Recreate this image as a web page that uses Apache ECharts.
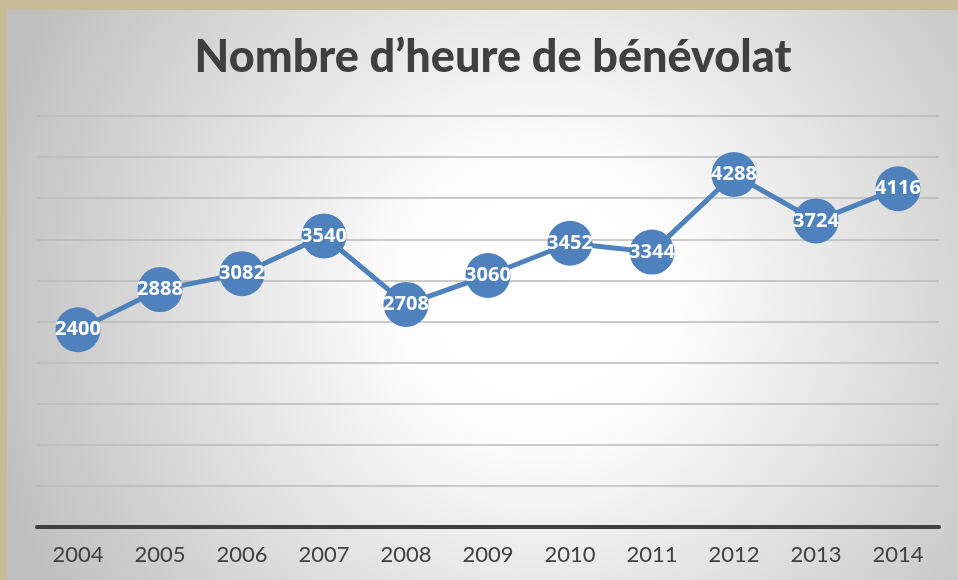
<!DOCTYPE html>
<html>
<head>
<meta charset="utf-8">
<script src="https://cdn.jsdelivr.net/npm/echarts@6/dist/echarts.min.js"></script>
<style>
  html, body { margin: 0; padding: 0; }
  #chart { width: 958px; height: 580px; }
</style>
</head>
<body>
<div id="chart"></div>
<script>
const years = ['2004', '2005', '2006', '2007', '2008', '2009', '2010', '2011', '2012', '2013', '2014'];
const heures = [2400, 2888, 3082, 3540, 2708, 3060, 3452, 3344, 4288, 3724, 4116];

const myChart = echarts.init(document.getElementById('chart'));

const option = {
    animation: false,
    graphic: [
        {
            type: 'rect', z: -10, silent: true,
            shape: { x: 0, y: 0, width: 958, height: 580 },
            style: { fill: '#c6bd98' }
        },
        {
            type: 'rect', z: -9, silent: true,
            shape: { x: 7, y: 10, width: 951, height: 570 },
            style: {
                fill: new echarts.graphic.RadialGradient(0.56, 0.5, 1.0, [
                    { offset: 0, color: '#ffffff' },
                    { offset: 0.25, color: '#fdfdfd' },
                    { offset: 1, color: '#bfbfbf' }
                ])
            }
        }
    ],
    title: {
        text: 'Nombre d\u2019heure de bénévolat',
        left: 488,
        textAlign: 'center',
        top: 30,
        textStyle: {
            color: '#404040',
            fontSize: 45,
            fontWeight: 900,
            fontFamily: 'Lato'
        }
    },
    grid: {
        left: 37,
        right: 19,
        top: 116,
        bottom: 53
    },
    xAxis: {
        type: 'category',
        data: years,
        boundaryGap: true,
        axisLine: { lineStyle: { color: '#404040', width: 4 } },
        axisTick: { show: false },
        axisLabel: {
            color: '#404040',
            fontSize: 22,
            fontFamily: 'Lato',
            margin: 17
        }
    },
    yAxis: {
        type: 'value',
        min: 0,
        max: 5000,
        interval: 500,
        axisLabel: { show: false },
        axisLine: { show: false },
        axisTick: { show: false },
        splitLine: { lineStyle: { color: '#bababa', width: 1.5 } }
    },
    series: [{
        type: 'line',
        data: heures,
        symbol: 'circle',
        symbolSize: 45,
        lineStyle: { color: '#4f81bd', width: 5 },
        itemStyle: { color: '#4f81bd' },
        label: {
            show: true,
            position: 'inside',
            color: '#ffffff',
            fontSize: 20,
            fontWeight: 'bold',
            fontFamily: 'Noto Sans'
        }
    }]
};

myChart.setOption(option);
</script>
</body>
</html>
